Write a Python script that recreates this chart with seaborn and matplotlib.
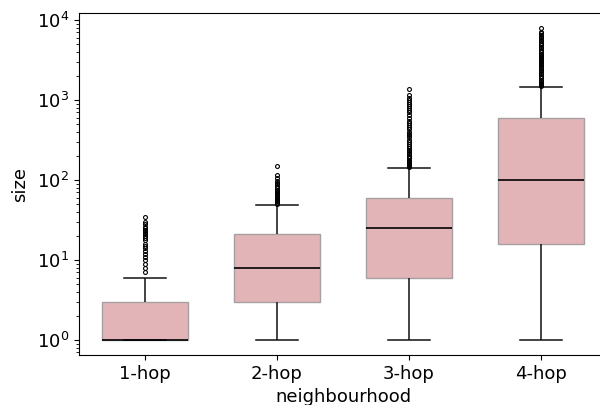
import numpy as np
import pandas as pd
import matplotlib
matplotlib.use("Agg")
import matplotlib.pyplot as plt
import seaborn as sns

categories = ["1-hop", "2-hop", "3-hop", "4-hop"]

hop1_values = [1, 2, 3, 4, 5, 6,
               7, 8, 9, 10, 11, 12, 13, 14, 15, 16, 18, 19, 20, 21, 22, 23, 24, 25, 26, 28, 30, 34]
hop1_counts = [70, 15, 15, 5, 3, 2] + [1] * 22

hop2_values = [1, 2, 3, 4, 5, 6, 7, 8, 10, 12, 15, 21, 25, 30, 35, 40, 48,
               50, 52, 54, 56, 58, 60, 62, 64, 66, 68, 70, 73, 76, 80, 84, 88, 92, 98, 105, 115, 150]
hop2_counts = [15, 15, 30, 10, 10, 10, 8, 10, 10, 10, 12, 20, 6, 5, 4, 3, 1] + [1] * 21

hop3_values = [1, 2, 3, 4, 5, 6, 8, 10, 12, 15, 20, 25, 30, 35, 40, 50, 55, 60, 75, 90, 110, 125, 140,
               145, 150, 155, 160, 165, 170, 175, 180, 190, 200, 210, 220, 230, 235, 250, 265, 280,
               300, 320, 340, 360, 380, 400, 430, 460, 490, 520, 550, 600, 650, 700, 750,
               800, 850, 900, 950, 1000, 1050, 1150, 1380]
hop3_counts = [20, 12, 10, 10, 8, 10, 10, 10, 10, 10, 10, 10, 10, 10, 10, 10, 8, 8, 5, 4, 3, 2, 1] + [1] * 40

hop4_values = [1, 2, 4, 6, 10, 16, 25, 40, 55, 70, 85, 100, 150, 200, 280, 380, 480, 600,
               800, 1000, 1200, 1470,
               1500, 1550, 1600, 1650, 1700, 1800, 1900, 2000, 2100, 2200,
               2300, 2400, 2500, 2600, 2700, 2800, 2900, 3000, 3100, 3200,
               3300, 3400, 3500, 3600, 3800, 4000, 4200, 4400, 4600, 4800,
               5000, 5200, 5400, 5600, 5900, 6200, 6500, 6800, 7000, 8000]
hop4_counts = [15, 10, 10, 10, 10, 10, 10, 10, 10, 10, 10, 10, 10, 10, 10, 10, 10, 10,
               5, 5, 4, 2] + [1] * 40

groups = {
    "1-hop": (hop1_values, hop1_counts),
    "2-hop": (hop2_values, hop2_counts),
    "3-hop": (hop3_values, hop3_counts),
    "4-hop": (hop4_values, hop4_counts),
}

rows = []
for cat in categories:
    vals, cnts = groups[cat]
    for v, c in zip(vals, cnts):
        rows.extend([(cat, v)] * c)
df = pd.DataFrame(rows, columns=["neighbourhood", "size"])

plt.rcParams["font.family"] = ["DejaVu Sans"]
plt.rcParams["font.size"] = 13

fig = plt.figure(figsize=(6.0, 4.05), dpi=100)
ax = fig.add_axes([79 / 600, 50 / 405, 528 / 600, 342 / 405])

sns.boxplot(
    data=df, x="neighbourhood", y="size", order=categories,
    color="#e2b4b8", saturation=1, width=0.65, ax=ax,
    boxprops=dict(edgecolor="#a8a0a0", linewidth=1.0),
    whiskerprops=dict(color="#111111", linewidth=1.1),
    capprops=dict(color="#111111", linewidth=1.1),
    medianprops=dict(color="black", linewidth=1.2),
    flierprops=dict(marker="o", markersize=2.8, markerfacecolor="none",
                    markeredgecolor="black", markeredgewidth=0.8),
)
ax.set_yscale("log")
ax.set_ylim(0.65, 12200)
ax.set_xlim(-0.5, 3.5)
ax.set_xlabel("neighbourhood", fontsize=13, labelpad=4)
ax.set_ylabel("size", fontsize=13, labelpad=6)
ax.tick_params(labelsize=13)

fig.savefig("out.png", dpi=100)
